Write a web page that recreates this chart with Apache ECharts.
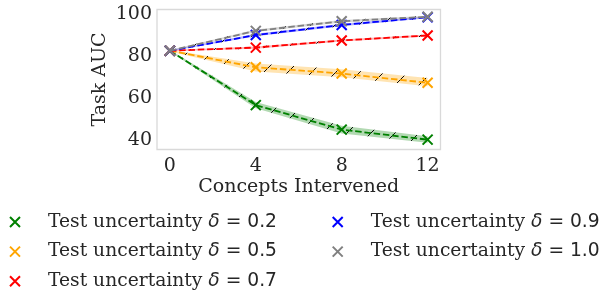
<!DOCTYPE html>
<html>
<head>
<meta charset="utf-8">
<script src="https://cdn.jsdelivr.net/npm/echarts@6/dist/echarts.min.js"></script>
<style>
html,body{margin:0;padding:0;background:#fff;}
#chart{width:602px;height:292px;}
</style>
</head>
<body>
<div id="chart"></div>
<script>
// ---- data ----
var concepts = [0, 4, 8, 12];
var xTicks = [0, 4, 8, 12];
var yTicks = [40, 60, 80, 100];
var seriesNames = ['Test uncertainty δ = 0.2', 'Test uncertainty δ = 0.5', 'Test uncertainty δ = 0.7', 'Test uncertainty δ = 0.9', 'Test uncertainty δ = 1.0'];
var auc02 = [82.5, 56.5, 44.8, 40.0];
var lo02  = [82.1, 55.0, 43.0, 38.5];
var hi02  = [82.9, 58.0, 46.6, 41.6];
var auc05 = [82.5, 74.6, 71.6, 67.2];
var lo05  = [82.1, 72.6, 69.8, 65.5];
var hi05  = [82.9, 76.4, 73.6, 69.5];
var auc07 = [82.5, 84.0, 87.4, 89.8];
var lo07  = [82.2, 83.5, 86.9, 89.3];
var hi07  = [82.8, 84.5, 87.9, 90.3];
var auc09 = [82.5, 90.0, 94.8, 98.5];
var lo09  = [82.2, 89.4, 94.2, 98.0];
var hi09  = [82.8, 90.6, 95.4, 99.0];
var auc10 = [82.5, 92.0, 96.6, 98.7];
var lo10  = [82.2, 91.4, 96.0, 98.2];
var hi10  = [82.8, 92.6, 97.2, 99.2];

var colors = ['#008000', '#FFA500', '#FF0000', '#0000FF', '#808080'];
var bandFill = ['rgba(0,128,0,0.3)', 'rgba(255,165,0,0.3)', 'rgba(255,0,0,0.3)', 'rgba(0,0,255,0.3)', 'rgba(128,128,128,0.3)'];

var means = [auc02, auc05, auc07, auc09, auc10];
var lows = [lo02, lo05, lo07, lo09, lo10];
var highs = [hi02, hi05, hi07, hi09, hi10];

function makeHatch(fill) {
  var T = 24;
  var c = document.createElement('canvas');
  c.width = T; c.height = T;
  var g = c.getContext('2d');
  g.fillStyle = fill;
  g.fillRect(0, 0, T, T);
  g.strokeStyle = 'rgba(0,0,0,0.95)';
  g.lineWidth = 1;
  g.beginPath();
  g.moveTo(0, T); g.lineTo(T, 0);
  g.moveTo(-2, 2); g.lineTo(2, -2);
  g.moveTo(T - 2, T + 2); g.lineTo(T + 2, T - 2);
  g.stroke();
  return c;
}

var xPath = 'path://M0,0L10,10M10,0L0,10';
var serif = 'DejaVu Serif';
var textColor = '#262626';

function bandRenderer(idx) {
  var pattern = makeHatch(bandFill[idx]);
  return function (params, api) {
    var pts = [];
    for (var k = 0; k < concepts.length; k++) pts.push(api.coord([concepts[k], highs[idx][k]]));
    for (var k2 = concepts.length - 1; k2 >= 0; k2--) pts.push(api.coord([concepts[k2], lows[idx][k2]]));
    return {
      type: 'polygon',
      shape: { points: pts },
      style: { fill: { image: pattern, repeat: 'repeat' }, stroke: null },
      silent: true
    };
  };
}

var series = [];
for (var i = 0; i < 5; i++) {
  series.push({
    type: 'custom', name: 'band' + i, renderItem: bandRenderer(i),
    data: [[concepts[0], lows[i][0]]], z: 2 + i * 2, silent: true,
    clip: true
  });
}
for (var j = 0; j < 5; j++) {
  series.push({
    type: 'line', name: seriesNames[j],
    data: concepts.map(function (x, k) { return [x, means[j][k]]; }),
    z: 3 + j * 2,
    symbol: xPath, symbolSize: 10,
    itemStyle: { color: colors[j], borderColor: colors[j], borderWidth: 2 },
    lineStyle: { color: colors[j], width: 1.8, type: [6.5, 2.8] }
  });
}

function legendFmt(name) {
  var parts = name.split('δ');
  return '{a|' + parts[0] + '}{b|δ}{c|' + parts[1] + '}';
}
var fs = 18.7;
var legendRich = {
  a: { fontFamily: serif, fontSize: fs, color: textColor, lineHeight: 19 },
  b: { fontFamily: 'DejaVu Sans', fontStyle: 'italic', fontSize: fs, color: textColor, lineHeight: 19 },
  c: { fontFamily: 'DejaVu Sans', fontSize: fs, color: textColor, lineHeight: 19 }
};
function legendData(list) {
  return list.map(function (n) {
    var idx = seriesNames.indexOf(n);
    return { name: n, icon: xPath, itemStyle: { color: colors[idx], borderColor: colors[idx], borderWidth: 2 } };
  });
}

var chart = echarts.init(document.getElementById('chart'), null, { renderer: 'canvas' });
chart.setOption({
  animation: false,
  backgroundColor: '#fff',
  grid: { left: 157, top: 9.5, right: 161.5, bottom: 142.5, show: true, borderColor: '#d9d9d9', borderWidth: 1.3, backgroundColor: '#fff' },
  xAxis: {
    type: 'value', min: -0.6, max: 12.6,
    name: 'Concepts Intervened', nameLocation: 'middle', nameGap: 28,
    nameTextStyle: { fontFamily: serif, fontSize: 19, color: textColor },
    axisLine: { show: false }, axisTick: { show: false }, splitLine: { show: false },
    axisLabel: { customValues: xTicks, fontFamily: serif, fontSize: 19, color: textColor, margin: 7 }
  },
  yAxis: {
    type: 'value', min: 35.3, max: 102.2,
    name: 'Task AUC', nameLocation: 'middle', nameGap: 47,
    nameTextStyle: { fontFamily: serif, fontSize: 19, color: textColor },
    axisLine: { show: false }, axisTick: { show: false }, splitLine: { show: false },
    axisLabel: { customValues: yTicks, fontFamily: serif, fontSize: 19, color: textColor, margin: 5 }
  },
  legend: [
    {
      orient: 'vertical', left: 9, top: 212.5, itemWidth: 10, itemHeight: 10, itemGap: 10.6, padding: 0,
      data: legendData(seriesNames.slice(0, 3)), formatter: legendFmt,
      textStyle: { padding: [0, 0, 0, 23], rich: legendRich }, selectedMode: false
    },
    {
      orient: 'vertical', left: 331.7, top: 212.5, itemWidth: 10, itemHeight: 10, itemGap: 10.6, padding: 0,
      data: legendData(seriesNames.slice(3)), formatter: legendFmt,
      textStyle: { padding: [0, 0, 0, 23], rich: legendRich }, selectedMode: false
    }
  ],
  series: series
});
</script>
</body>
</html>
